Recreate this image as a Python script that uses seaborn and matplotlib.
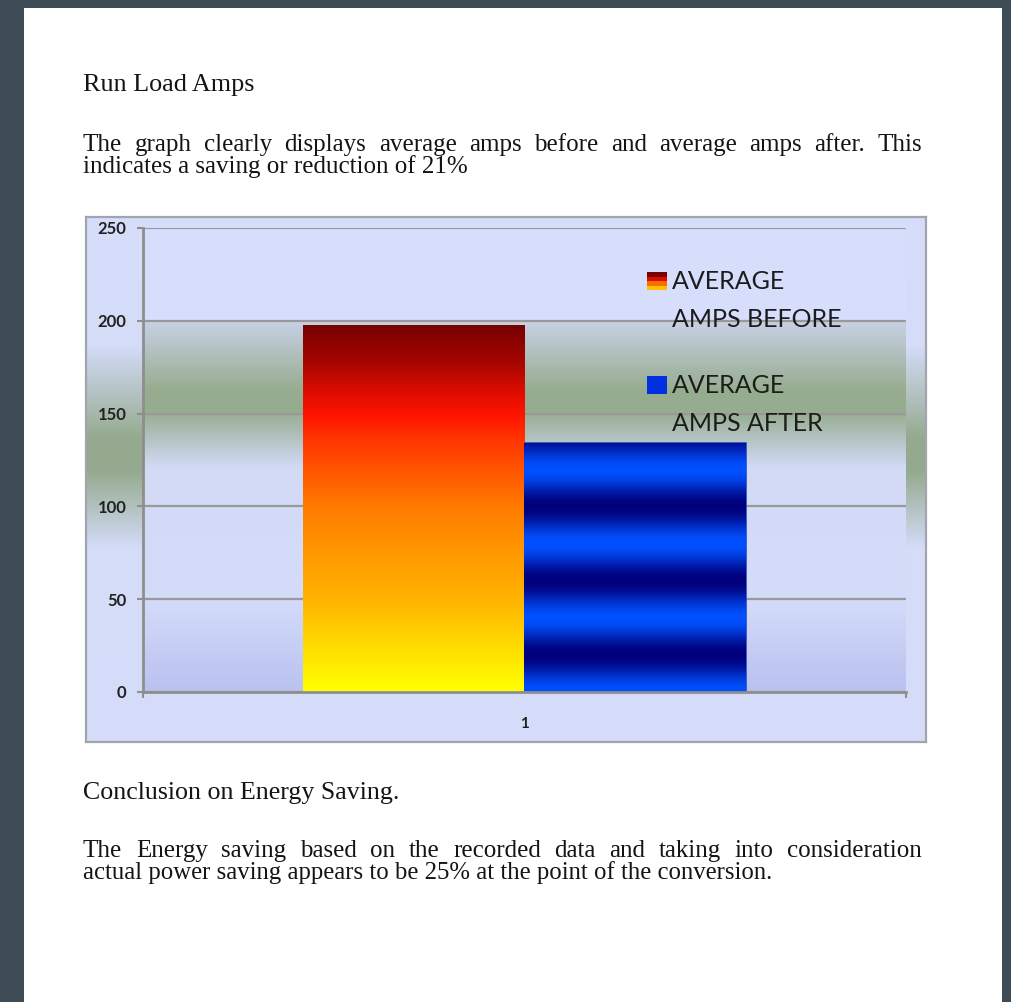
import numpy as np
import pandas as pd
import matplotlib
matplotlib.use("Agg")
import matplotlib.pyplot as plt
from matplotlib.colors import to_rgb
from matplotlib.patches import Rectangle
from matplotlib.legend_handler import HandlerBase
from matplotlib.ticker import FixedLocator
import seaborn as sns

# ---- chart data -------------------------------------------------------
categories = ["1"]
series = ["AVERAGE\nAMPS BEFORE", "AVERAGE\nAMPS AFTER"]
amps = [198, 134]
y_ticks = [0, 50, 100, 150, 200, 250]

# ---- page text ----------------------------------------------------------
heading = "Run Load Amps"
para1 = ["The graph clearly displays average amps before and average amps after. This",
         "indicates a saving or reduction of 21%"]
heading2 = "Conclusion on Energy Saving."
para2 = ["The Energy saving based on the recorded data and taking into consideration",
         "actual power saving appears to be 25% at the point of the conversion."]

W, H = 1012, 1002
sns.set_theme(style="white")
plt.rcParams["font.family"] = ["Lato", "DejaVu Sans"]

fig = plt.figure(figsize=(W / 100, H / 100), dpi=100, facecolor="#3e4d55")


def box(x0, y0, x1, y1):
    """pixel box (top-left origin) -> figure-fraction rect"""
    return [x0 / W, 1 - y1 / H, (x1 - x0) / W, (y1 - y0) / H]


def vgrad(stops, n, y0, y1, width=4):
    """vertical gradient image; stops are (pixel_y, colour) pairs"""
    ys = np.linspace(y0, y1, n)
    pos = [s[0] for s in stops]
    cols = np.array([to_rgb(s[1]) for s in stops])
    arr = np.stack([np.interp(ys, pos, cols[:, k]) for k in range(3)], axis=-1)
    return np.repeat(arr[:, None, :], width, axis=1)


# white sheet
fig.add_artist(Rectangle((24 / W, 0), (1002 - 24) / W, (1002 - 8) / H,
                         transform=fig.transFigure, facecolor="white",
                         edgecolor="none", zorder=-5))

# ---- chart frame with its shaded background -----------------------------
fax = fig.add_axes(box(86, 217, 926, 742))
frame_stops = [(217, "#d6defc"), (345, "#d4dcf8"), (440, "#94a98d"),
               (470, "#94a98d"), (548, "#d4dcf8"), (742, "#d4dcfa")]
fax.imshow(vgrad(frame_stops, 525, 217, 742), aspect="auto",
           extent=[0, 1, 0, 1], interpolation="nearest")
fax.set_xlim(0, 1)
fax.set_ylim(0, 1)
fax.set_xticks([])
fax.set_yticks([])
for sp in fax.spines.values():
    sp.set_color("#a2a4ae")
    sp.set_linewidth(1.6)

# ---- plot area -----------------------------------------------------------
ax = fig.add_axes(box(143, 228, 906, 692))
ax.set_facecolor("none")
plot_stops = [(228, "#d6defc"), (320.5, "#d6defc"), (321.5, "#c8d1e6"),
              (392, "#96ac8e"), (412, "#96ac8e"), (468, "#d2daf6"),
              (600, "#d4dcfa"), (692, "#b9c1ef")]
ax.imshow(vgrad(plot_stops, 464, 228, 692), aspect="auto",
          extent=[-0.5, 0.5, 0, 250], interpolation="nearest", zorder=0)

df = pd.DataFrame({"category": categories * len(series),
                   "series": series, "amps": amps})
sns.barplot(data=df, x="category", y="amps", hue="series", hue_order=series,
            palette=["#ff3000", "#0038f0"], width=0.58, saturation=1,
            legend=False, ax=ax, linewidth=0)

red_stops = [(0.0, "#760000"), (0.10, "#a40600"), (0.18, "#dc0c00"),
             (0.25, "#ff1400"), (0.30, "#ff3000"), (0.50, "#ff7c00"),
             (0.75, "#ffb400"), (0.95, "#fff200"), (1.0, "#ffff00")]
navy, bright = np.array(to_rgb("#00007c")), np.array(to_rgb("#0050ff"))

bars = [p for p in ax.patches if isinstance(p, Rectangle)][:2]
for i, patch in enumerate(bars):
    x0, w, h = patch.get_x(), patch.get_width(), patch.get_height()
    if i == 0:
        arr = vgrad(red_stops, 400, 0, 1)
    else:
        v = np.linspace(h, 0, 400)
        t = (1 + np.cos(2 * np.pi * v / 40.0)) / 2
        arr = (navy[None, :] + t[:, None] * (bright - navy)[None, :])[:, None, :]
        arr = np.repeat(arr, 4, axis=1)
        patch.set_edgecolor("#2a48c0")
        patch.set_linewidth(1.2)
    img = ax.imshow(arr, aspect="auto", extent=[x0, x0 + w, 0, h],
                    interpolation="bilinear", zorder=1.6)
    img.set_clip_path(patch)

ax.set_xlim(-0.5, 0.5)
ax.set_ylim(0, 250)
ax.set_yticks(y_ticks)
ax.set_yticklabels([str(t) for t in y_ticks])
ax.set_xticks([0])
ax.set_xticklabels(categories)
ax.xaxis.set_minor_locator(FixedLocator([-0.5, 0.5]))
ax.set_xlabel("")
ax.set_ylabel("")
ax.set_axisbelow(True)
ax.yaxis.grid(True, color="#999999", linewidth=1.6)
ax.xaxis.grid(False)
for side in ("top", "right"):
    ax.spines[side].set_visible(False)
for side in ("left", "bottom"):
    ax.spines[side].set_color("#8e8e8e")
    ax.spines[side].set_linewidth(2)
ax.tick_params(axis="y", which="major", left=True, length=4, width=1.5,
               color="#8e8e8e", pad=8, labelsize=12, labelcolor="#222222")
ax.tick_params(axis="x", which="major", bottom=True, length=0, pad=18,
               labelsize=11, labelcolor="#222222")
ax.tick_params(axis="x", which="minor", bottom=True, length=4, width=1.5,
               color="#8e8e8e")
for lab in ax.get_yticklabels() + ax.get_xticklabels():
    lab.set_fontweight("bold")


# ---- legend with shaded swatches ----------------------------------------
class SwatchHandler(HandlerBase):
    def __init__(self, colours, dy=0.0):
        super().__init__()
        self.colours = colours
        self.dy = dy

    def create_artists(self, legend, orig_handle, xdescent, ydescent,
                       width, height, fontsize, trans):
        n = len(self.colours)
        arts = []
        for k, c in enumerate(self.colours):
            y = -ydescent + self.dy + height * (n - 1 - k) / n
            arts.append(Rectangle((-xdescent, y), width, height / n,
                                  facecolor=c, edgecolor="none",
                                  transform=trans))
        return arts


h_before = Rectangle((0, 0), 1, 1)
h_after = Rectangle((0, 0), 1, 1)
leg = ax.legend([h_before, h_after], series,
                handler_map={h_before: SwatchHandler(["#7a0000", "#d01000", "#ff6a00", "#ffc000"], dy=14.6),
                             h_after: SwatchHandler(["#0030e0"], dy=14.6)},
                loc="upper left", bbox_to_anchor=(647 / W, 1 - 270 / H),
                bbox_transform=fig.transFigure, frameon=False, fontsize=18,
                handlelength=0.8, handleheight=0.75, handletextpad=0.2,
                labelspacing=1.7, borderpad=0, borderaxespad=0)
for t in leg.get_texts():
    t.set_color("#1c1c1c")
    t.set_linespacing(1.8)

# ---- surrounding document text ------------------------------------------
serif = dict(family="Liberation Serif", size=18, color="#141414", va="baseline")


def put(x, y, s, size=18):
    return fig.text(x / W, 1 - y / H, s, **{**serif, "size": size})


def justify(line, x0, x1, y):
    words = line.split()
    arts = [put(x0, y, w) for w in words]
    r = fig.canvas.get_renderer()
    widths = [a.get_window_extent(r).width for a in arts]
    gap = (x1 - x0 - sum(widths)) / (len(words) - 1)
    x = x0
    for a, w in zip(arts, widths):
        a.set_x(x / W)
        x += w + gap


put(83, 91, heading, size=18.8)
justify(para1[0], 83, 922, 151)
put(83, 173, para1[1])
put(83, 799, heading2, size=18.6)
justify(para2[0], 83, 922, 857)
put(83, 879, para2[1], size=17.8)

fig.savefig("out.png", dpi=100, facecolor=fig.get_facecolor())
